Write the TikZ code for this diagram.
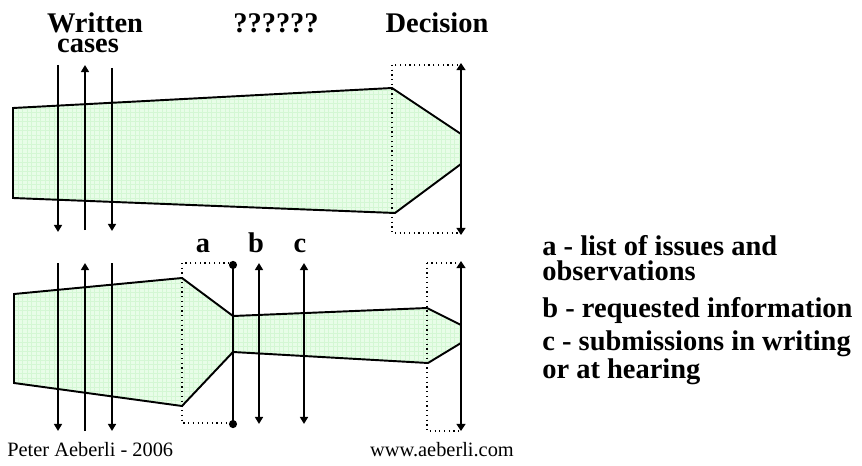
\documentclass[tikz,border=0pt]{standalone}
\usepackage{fontspec}
\setmainfont{Liberation Serif}
\usetikzlibrary{arrows.meta}

\definecolor{mint}{RGB}{232,253,232}
\definecolor{meshgreen}{RGB}{212,247,212}

\tikzset{
    stream/.style={draw, line width=1.1pt, line join=miter},
    mesh/.style={meshgreen, line width=0.25pt},
    casearrow/.style={line width=1.1pt, -{Triangle[length=4pt,width=4.5pt]}},
    twoway/.style={line width=1.1pt, {Triangle[length=4pt,width=4.5pt]}-{Triangle[length=4pt,width=4.5pt]}},
    decideline/.style={line width=1.7pt, {Triangle[length=4pt,width=5pt]}-{Triangle[length=4pt,width=5pt]}},
    stopline/.style={line width=1.7pt, {Circle[length=4.5pt]}-{Circle[length=4.5pt]}},
    window/.style={draw, dotted, line width=0.7pt},
    heading/.style={font=\bfseries\fontsize{16.2}{14}\selectfont, inner sep=0pt},
    legend/.style={font=\bfseries\fontsize{16.2}{14}\selectfont, align=left, inner sep=0pt},
    credit/.style={font=\fontsize{11.6}{13}\selectfont, inner sep=0pt}
}

\begin{document}
\begin{tikzpicture}[x=0.02cm, y=-0.02cm]

    \useasboundingbox (0,0) rectangle (862,466);

    % Headings
    \node[heading, anchor=base] (written) at (95,33) {Written};
    \node[heading, anchor=base] (cases) at (88,53) {cases};
    \node[heading, anchor=base] (unknown) at (276,33) {??????};
    \node[heading, anchor=base] (decision) at (437,33) {Decision};

    % Top stream
    \begin{scope}
        \clip (13,108) -- (392,88) -- (461,134) -- (461,164) -- (395,213) -- (13,198) -- cycle;
        \fill[mint] (0,60) rectangle (470,240);
        \draw[mesh, step=0.09cm] (0,60) grid (470,240);
    \end{scope}
    \draw[stream] (13,108) -- (392,88) -- (461,134) -- (461,164) -- (395,213) -- (13,198) -- cycle;
    \draw[window] (392,65) rectangle (461,233);

    % Bottom stream
    \begin{scope}
        \clip (14,294) -- (182,278) -- (233,316) -- (427,308) -- (461,325) -- (461,343)
            -- (428,363) -- (233,352) -- (182,406) -- (14,383) -- cycle;
        \fill[mint] (0,260) rectangle (470,430);
        \draw[mesh, step=0.09cm] (0,260) grid (470,430);
    \end{scope}
    \draw[stream] (14,294) -- (182,278) -- (233,316) -- (233,352) -- (182,406) -- (14,383) -- cycle;
    \draw[stream] (233,316) -- (427,308) -- (461,325) -- (461,343) -- (428,363) -- (233,352);
    \draw[window] (182,263) rectangle (233,423);
    \draw[window] (427,263) rectangle (461,431);

    % Written cases crossing the streams
    \coordinate (w1top) at (58,65);   \coordinate (w1bot) at (58,232);
    \coordinate (w2top) at (85,65);   \coordinate (w2bot) at (85,230);
    \coordinate (w3top) at (112,68);  \coordinate (w3bot) at (112,231);
    \draw[casearrow] (w1top) -- (w1bot);
    \draw[casearrow] (w2bot) -- (w2top);
    \draw[casearrow] (w3top) -- (w3bot);

    \coordinate (v1top) at (58,263);  \coordinate (v1bot) at (58,431);
    \coordinate (v2top) at (85,263);  \coordinate (v2bot) at (85,431);
    \coordinate (v3top) at (112,263); \coordinate (v3bot) at (112,431);
    \draw[casearrow] (v1top) -- (v1bot);
    \draw[casearrow] (v2bot) -- (v2top);
    \draw[casearrow] (v3top) -- (v3bot);

    % Decision lines
    \coordinate (d1top) at (461,63);  \coordinate (d1bot) at (461,235);
    \coordinate (d2top) at (461,261); \coordinate (d2bot) at (461,431);
    \draw[decideline] (d1top) -- (d1bot);
    \draw[decideline] (d2top) -- (d2bot);

    % Steps a, b, c
    \coordinate (atop) at (233,261); \coordinate (abot) at (233,428);
    \coordinate (btop) at (259,263); \coordinate (bbot) at (259,424);
    \coordinate (ctop) at (304,263); \coordinate (cbot) at (304,424);
    \draw[stopline] (atop) -- (abot);
    \draw[twoway] (btop) -- (bbot);
    \draw[twoway] (ctop) -- (cbot);

    \node[heading, anchor=base] (alabel) at (203,252) {a};
    \node[heading, anchor=base] (blabel) at (256,252) {b};
    \node[heading, anchor=base] (clabel) at (300,252) {c};

    % Legend (base sits on the last line)
    \node[legend, anchor=base west] (legenda) at (542,280) {a - list of issues and\\observations};
    \node[legend, anchor=base west] (legendb) at (542,317) {b - requested information};
    \node[legend, anchor=base west] (legendc) at (542,378) {c - submissions in writing\\or at hearing};

    % Footer
    \node[credit, anchor=base west] (author) at (7,456) {Peter Aeberli - 2006};
    \node[credit, anchor=base] (site) at (442,456) {www.aeberli.com};

\end{tikzpicture}
\end{document}
